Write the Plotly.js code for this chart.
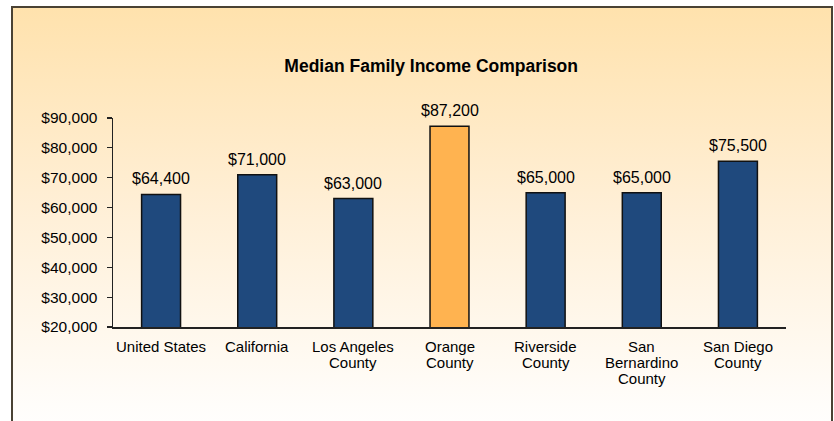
<!DOCTYPE html>
<html>
<head>
<meta charset="utf-8">
<script src="https://cdn.plot.ly/plotly-3.0.1.min.js"></script>
<style>
  html, body { margin: 0; padding: 0; background: #ffffff; width: 834px; height: 421px; overflow: hidden; }
  #frame {
    position: absolute; left: 11px; top: 6px; width: 818px; height: 440px;
    border: 2px solid #4a4234;
    background: linear-gradient(to bottom, #ffe2ad 0%, #ffefd6 45%, #fffdfa 90%, #ffffff 100%);
  }
  #chart { position: absolute; left: 0; top: 0; width: 834px; height: 421px; }
</style>
</head>
<body>
<div id="frame"></div>
<div id="chart"></div>
<script>
const categories = ["United States", "California", "Los Angeles<br>County", "Orange<br>County", "Riverside<br>County", "San<br>Bernardino<br>County", "San Diego<br>County"];
const incomes = [64400, 71000, 63000, 87200, 65000, 65000, 75500];
const valueLabels = ["$64,400", "$71,000", "$63,000", "$87,200", "$65,000", "$65,000", "$75,500"];
const barColors = ["#1f497d", "#1f497d", "#1f497d", "#ffb350", "#1f497d", "#1f497d", "#1f497d"];
const yTickValues = [20000, 30000, 40000, 50000, 60000, 70000, 80000, 90000];
const yTickLabels = ["$20,000", "$30,000", "$40,000", "$50,000", "$60,000", "$70,000", "$80,000", "$90,000"];

const font = "Liberation Sans, Arial, sans-serif";

const trace = {
  type: "bar",
  x: categories,
  y: incomes,
  width: 0.405,
  marker: { color: barColors, line: { color: "#111111", width: 1.5 } },
  hoverinfo: "skip"
};

const annotations = categories.map((c, i) => ({
  x: c, y: incomes[i], xref: "x", yref: "y",
  text: valueLabels[i], showarrow: false,
  yanchor: "bottom", yshift: 5,
  font: { family: font, size: 16, color: "#000000" }
}));

// category labels, one annotation per line for tight Excel-like line spacing
categories.forEach((c) => {
  c.split("<br>").forEach((line, j) => {
    annotations.push({
      x: c, y: 0, xref: "x", yref: "paper",
      text: line, showarrow: false, borderpad: 0,
      yanchor: "middle", yshift: -(19.5 + 16 * j),
      font: { family: font, size: 15, color: "#000000" }
    });
  });
});

const layout = {
  width: 834, height: 421,
  margin: { l: 113, r: 48, t: 118, b: 94, pad: 0 },
  paper_bgcolor: "rgba(0,0,0,0)",
  plot_bgcolor: "rgba(0,0,0,0)",
  showlegend: false,
  title: {
    text: "<b>Median Family Income Comparison</b>",
    font: { family: font, size: 17.5, color: "#000000" },
    x: 0.517, xref: "container", xanchor: "center",
    y: 1 - 66/421, yref: "container", yanchor: "middle"
  },
  xaxis: {
    type: "category",
    showline: true, linecolor: "#222222", linewidth: 1.5,
    ticks: "", showgrid: false, zeroline: false,
    showticklabels: false,
    fixedrange: true
  },
  yaxis: {
    range: [20000, 90000],
    tickvals: yTickValues, ticktext: yTickLabels,
    showline: true, linecolor: "#222222", linewidth: 1.5,
    ticks: "outside", ticklen: 5, tickwidth: 1.2, tickcolor: "#222222",
    showgrid: false, zeroline: false,
    tickfont: { family: font, size: 15.5, color: "#000000" },
    ticklabelstandoff: 6,
    fixedrange: true
  },
  annotations: annotations
};

Plotly.newPlot("chart", [trace], layout, { displayModeBar: false, staticPlot: true });
</script>
</body>
</html>
